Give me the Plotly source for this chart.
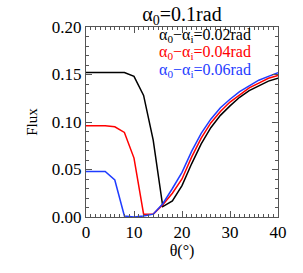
import plotly.graph_objects as go

theta = [0, 2, 4, 6, 8, 10, 12, 14, 16, 18, 20, 22, 24, 26, 28, 30, 32, 34, 36, 38, 40]
flux_002 = [0.152, 0.152, 0.152, 0.152, 0.152, 0.148, 0.128, 0.081, 0.011, 0.017, 0.033,
            0.056, 0.077, 0.094, 0.107, 0.117, 0.126, 0.133, 0.138, 0.143, 0.146]
flux_004 = [0.096, 0.096, 0.096, 0.095, 0.089, 0.062, 0.003, 0.003, 0.013, 0.025, 0.040,
            0.063, 0.083, 0.099, 0.111, 0.121, 0.129, 0.136, 0.141, 0.146, 0.149]
flux_006 = [0.048, 0.048, 0.048, 0.039, 0.001, 0.0, 0.001, 0.003, 0.014, 0.030, 0.047,
            0.069, 0.088, 0.103, 0.115, 0.124, 0.132, 0.138, 0.144, 0.148, 0.152]

series = [
    ("α<sub>0</sub>−α<sub>i</sub>=0.02rad", flux_002, "black"),
    ("α<sub>0</sub>−α<sub>i</sub>=0.04rad", flux_004, "red"),
    ("α<sub>0</sub>−α<sub>i</sub>=0.06rad", flux_006, "#1f3cff"),
]

FONT = "Liberation Serif"
L, R, T, B = 86, 25, 27, 56
W, H = 303, 273
pw, ph = W - L - R, H - T - B

fig = go.Figure()
for name, ys, col in series:
    fig.add_trace(go.Scatter(x=theta, y=ys, mode="lines", name=name,
                             line=dict(color=col, width=1.5), cliponaxis=False))

for i, (name, ys, col) in enumerate(series):
    px_y = 35 + 17.5 * i
    fig.add_annotation(x=(157 - L) / pw, y=1 - (px_y - T) / ph, xref="paper", yref="paper",
                       text=name, showarrow=False, xanchor="left", yanchor="middle",
                       font=dict(family=FONT, size=16, color=col))

axis_common = dict(
    showline=True, linecolor="#555", linewidth=1, mirror="ticks",
    ticks="inside", ticklen=6, tickcolor="#555", showgrid=False, zeroline=False,
    tickfont=dict(family=FONT, size=17, color="black"),
)
fig.update_xaxes(range=[0, 40], dtick=10, tick0=0,
                 minor=dict(dtick=1, ticks="inside", ticklen=3, tickcolor="#555"),
                 title=dict(text="θ(°)", font=dict(family=FONT, size=16, color="black"), standoff=1),
                 **axis_common)
fig.update_yaxes(range=[0, 0.2], dtick=0.05, tick0=0, tickformat=".2f",
                 minor=dict(dtick=0.01, ticks="inside", ticklen=3, tickcolor="#555"),
                 title=dict(text="Flux", font=dict(family=FONT, size=15, color="black"), standoff=10),
                 **axis_common)

fig.update_layout(
    width=W, height=H,
    margin=dict(l=L, r=R, t=T, b=B),
    paper_bgcolor="white", plot_bgcolor="white",
    showlegend=False,
    title=dict(text="α<sub>0</sub>=0.1rad", x=(L + pw / 2) / W, xanchor="center",
               y=1 - 14 / H, yanchor="middle",
               font=dict(family=FONT, size=20, color="black")),
)

fig.write_html("out.html", config={"displayModeBar": False},
               post_script="document.body.style.margin='0';")
